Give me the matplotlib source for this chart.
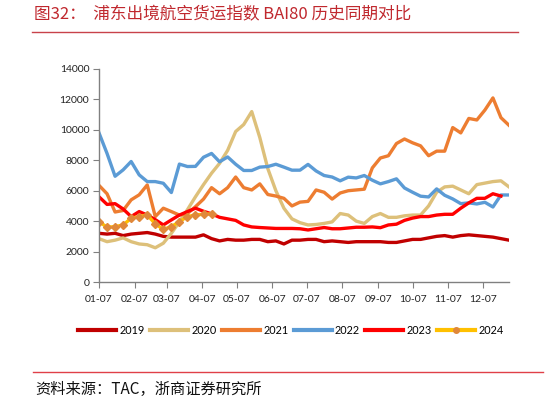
import numpy as np
import matplotlib.pyplot as plt
from matplotlib.lines import Line2D

plt.rcParams['font.family'] = ['Lato', 'DejaVu Sans']

# weekly points, days after 01-07
weeks = np.arange(52) * 7
tick_days = [0, 31, 59, 90, 120, 151, 181, 212, 243, 273, 304, 334]
tick_labels = ['01-07', '02-07', '03-07', '04-07', '05-07', '06-07',
               '07-07', '08-07', '09-07', '10-07', '11-07', '12-07']

y2019 = [3200, 3150, 3200, 3050, 3150, 3200, 3250, 3150, 3000, 2950, 2950, 2950, 2950,
         3100, 2850, 2700, 2800, 2750, 2750, 2800, 2800, 2650, 2700, 2500, 2750, 2750,
         2800, 2800, 2650, 2700, 2650, 2600, 2650, 2650, 2650, 2650, 2600, 2600, 2700,
         2800, 2800, 2900, 3000, 3050, 2950, 3050, 3100, 3050, 3000, 2950, 2850, 2750]
y2020 = [2850, 2650, 2750, 2900, 2650, 2500, 2450, 2250, 2550, 3200, 3950, 4750, 5600,
         6400, 7150, 7800, 8650, 9890, 10350, 11200, 9500, 7450, 6000, 4850, 4150, 3900,
         3750, 3780, 3850, 3950, 4500, 4400, 4000, 3850, 4300, 4500, 4250, 4250, 4350,
         4400, 4400, 5000, 5900, 6250, 6300, 6050, 5800, 6400, 6500, 6600, 6650, 6250]
y2021 = [6350, 5800, 4600, 4700, 5400, 5730, 6380, 4300, 4850, 4630, 4400, 4500, 4950,
         5450, 6200, 5800, 6200, 6900, 6200, 6050, 6450, 5750, 5650, 5500, 5000, 5250,
         5300, 6050, 5900, 5450, 5850, 6000, 6050, 6100, 7500, 8150, 8300, 9100, 9400,
         9150, 8950, 8300, 8600, 8600, 10150, 9800, 10750, 10650, 11300, 12100, 10800, 10300]
y2022 = [9800, 8450, 6950, 7370, 7920, 7040, 6600, 6600, 6490, 5880, 7750, 7590, 7600,
         8200, 8450, 7900, 8220, 7740, 7330, 7330, 7550, 7590, 7740, 7550, 7350, 7350,
         7730, 7300, 7000, 6900, 6650, 6890, 6840, 7000, 6690, 6450, 6600, 6780, 6180,
         5900, 5640, 5590, 6120, 5700, 5460, 5150, 5200, 5130, 5240, 4930, 5720, 5720]
y2023 = [5600, 5100, 5150, 4800, 4300, 4630, 4400, 4100, 3750, 4080, 4400, 4630, 4850,
         4650, 4480, 4250, 4150, 4050, 3750, 3620, 3580, 3550, 3520, 3520, 3520, 3500,
         3420, 3500, 3580, 3500, 3500, 3550, 3600, 3600, 3620, 3570, 3750, 3800, 4050,
         4200, 4300, 4300, 4400, 4450, 4450, 4850, 5200, 5500, 5500, 5800, 5650, np.nan]
y2024 = [3970, 3600, 3640, 3750, 4190, 4300, 4410, 3820, 3460, 3640, 3970, 4300, 4410,
         4450, 4480]

fig = plt.figure(figsize=(5.48, 4.03), dpi=100)
ax = fig.add_axes([99/548, 1-282/403, 410/548, 213/403])

lw = 2.4
ax.plot(weeks, y2019, color='#C00000', lw=lw, solid_joinstyle='round')
ax.plot(weeks, y2020, color='#DDC07A', lw=lw, solid_joinstyle='round')
ax.plot(weeks, y2021, color='#ED7D31', lw=lw, solid_joinstyle='round')
ax.plot(weeks, y2022, color='#5B9BD5', lw=lw, solid_joinstyle='round')
ax.plot(weeks, y2023, color='#FF0000', lw=lw, solid_joinstyle='round')
ax.plot(weeks[:len(y2024)], y2024, color='#FFC000', lw=lw, marker='D', ms=4.2,
        mfc='#E0883A', mec='#E0883A', solid_joinstyle='round')

ax.set_xlim(0, 357)
ax.set_ylim(0, 14000)
ax.set_xticks(tick_days)
ax.set_xticklabels(tick_labels)
ax.set_yticks(range(0, 14001, 2000))
for s in ['top', 'right']:
    ax.spines[s].set_visible(False)
for s in ['left', 'bottom']:
    ax.spines[s].set_color('#808080')
    ax.spines[s].set_linewidth(1.0)
ax.tick_params(axis='both', direction='out', length=4, color='#808080',
               labelsize=7.5, labelcolor='#222222', pad=3)
ax.tick_params(axis='x', pad=5)

handles = [Line2D([], [], color='#C00000', lw=3),
           Line2D([], [], color='#DDC07A', lw=3),
           Line2D([], [], color='#ED7D31', lw=3),
           Line2D([], [], color='#5B9BD5', lw=3),
           Line2D([], [], color='#FF0000', lw=3),
           Line2D([], [], color='#FFC000', lw=3, marker='o', ms=4,
                  mfc='#E0883A', mec='#E0883A')]
fig.legend(handles, ['2019', '2020', '2021', '2022', '2023', '2024'],
           loc='center', bbox_to_anchor=(291/548, 1-330/403), ncol=6,
           frameon=False, fontsize=7.8, handlelength=3.5, handletextpad=0.3,
           columnspacing=0.5)

cjk = ['Noto Sans CJK SC', 'DejaVu Sans']
fig.text(34/548, 1-15/403, '图32：  浦东出境航空货运指数 BAI80 历史同期对比',
         color='#C0282E', fontsize=12, family=cjk, va='center', ha='left')
fig.add_artist(Line2D([32/548, 518/548], [1-32/403, 1-32/403], color='#C8424A', lw=1.0))
fig.add_artist(Line2D([33/548, 543/548], [1-372/403, 1-372/403], color='#E04048', lw=1.0))
fig.text(35/548, 1-389/403, '资料来源：TAC，浙商证券研究所', color='#111111',
         fontsize=11, family=cjk, va='center', ha='left')

fig.savefig('out.png', dpi=100)
